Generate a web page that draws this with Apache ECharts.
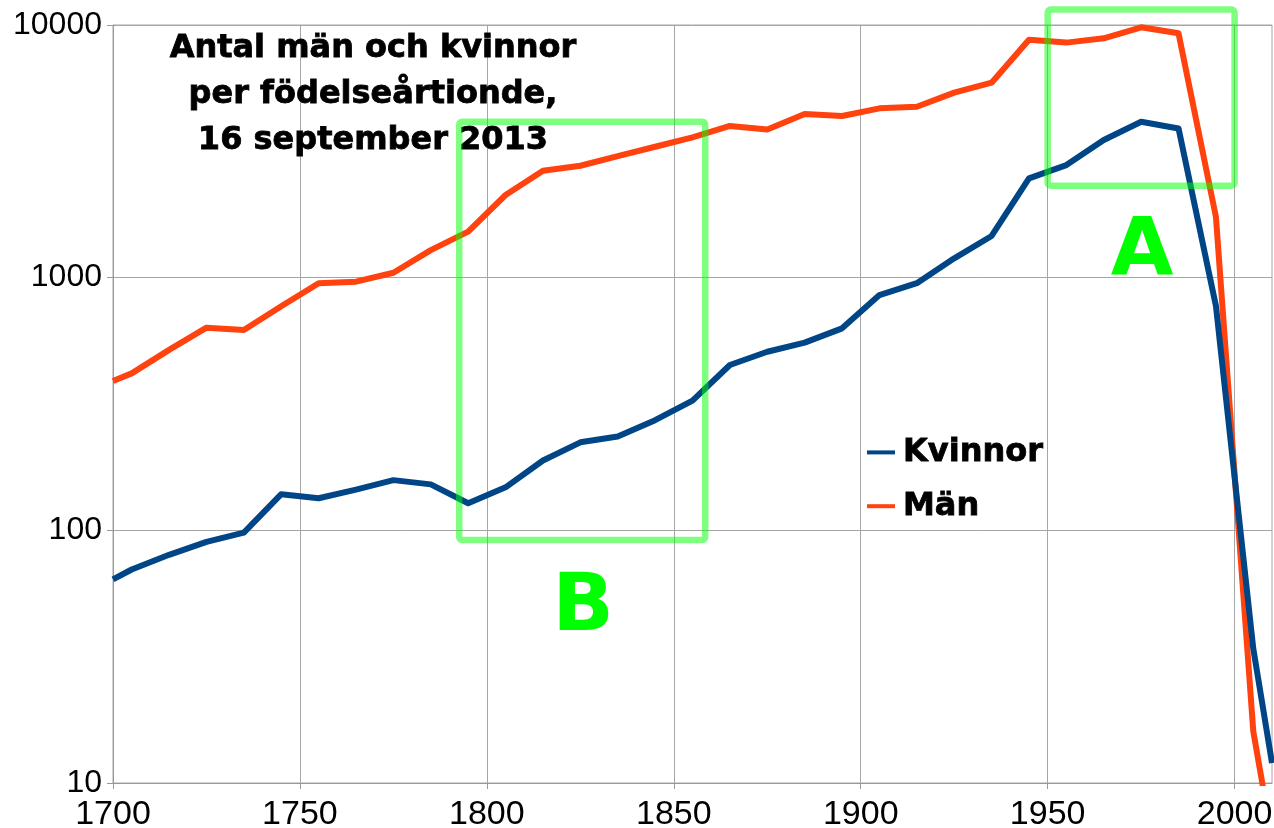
<!DOCTYPE html>
<html><head><meta charset="utf-8">
<script src="https://cdn.jsdelivr.net/npm/echarts@6/dist/echarts.min.js"></script>
<style>html,body{margin:0;padding:0;background:#fff}#c{width:1274px;height:828px}</style>
</head><body><div id="c"></div>
<script>
// Birth-decade midpoints (first point at the axis start, last at 2010)
const years = [1700,1705,1715,1725,1735,1745,1755,1765,1775,1785,1795,1805,1815,1825,1835,1845,1855,1865,1875,1885,1895,1905,1915,1925,1935,1945,1955,1965,1975,1985,1995,2005,2010];
const kvinnor = [64,70,80,90,98,139,134,145,158,152,128,148,189,223,235,273,326,451,509,553,630,853,951,1193,1462,2472,2790,3506,4140,3896,774,34,12];
const man = [390,418,518,634,621,771,951,964,1046,1285,1521,2124,2650,2773,3027,3297,3592,3984,3862,4447,4363,4680,4750,5398,5913,8735,8517,8859,9790,9270,1742,16,6];
const xTicks = [1700,1750,1800,1850,1900,1950,2000];
const yTicks = [10,100,1000,10000];
const seriesNames = ['Kvinnor','Män'];
const titleLines = ['Antal män och kvinnor','per födelseårtionde,','16 september 2013'];
// annotation boxes in data space: [x0, yTop, x1, yBottom]
const boxB = [1792.6, 4140, 1858.4, 91.6];
const boxA = [1950, 11510, 2000, 2312];
const boxLabels = ['A','B'];

const chart = echarts.init(document.getElementById('c'));
const gridColor = '#a6a6a6';
const option = {
  animation: false,
  backgroundColor: '#ffffff',
  grid: {left: 113, right: 2, top: 25, bottom: 45, show: true, borderColor: gridColor, borderWidth: 1,
         containLabel: false, outerBoundsMode: 'none'},
  xAxis: {
    type: 'value', min: 1700, max: 2010, interval: 50,
    axisLine: {show: true, lineStyle: {color: '#999', width: 1}},
    axisTick: {show: true, length: 6, lineStyle: {color: '#999'}, customValues: xTicks},
    splitLine: {show: true, lineStyle: {color: gridColor, width: 1}},
    axisLabel: {
      customValues: xTicks,
      formatter: v => xTicks.includes(v) ? String(v) : '',
      color: '#000', fontFamily: "'Liberation Sans', Arial, sans-serif",
      fontSize: 34, margin: 15
    }
  },
  yAxis: {
    type: 'log', logBase: 10, min: 10, max: 10000,
    axisLine: {show: true, lineStyle: {color: '#999', width: 1}},
    axisTick: {show: true, length: 6, lineStyle: {color: '#999'}},
    splitLine: {show: true, lineStyle: {color: gridColor, width: 1}},
    minorTick: {show: false},
    axisLabel: {
      formatter: v => yTicks.includes(Math.round(v)) ? String(Math.round(v)) : '',
      color: '#000', fontFamily: "'Liberation Sans', Arial, sans-serif",
      fontSize: 32, margin: 11
    }
  },
  legend: {
    data: seriesNames,
    orient: 'vertical', left: 867, top: 436, padding: 0,
    icon: 'rect', itemWidth: 28, itemHeight: 4, itemGap: 21,
    textStyle: {fontFamily: "'DejaVu Sans', sans-serif", fontWeight: 'bold', fontSize: 32, color: '#000',
                padding: [0,0,0,3], textBorderColor: '#000', textBorderWidth: 0.8}
  },
  series: [
    {name: seriesNames[0], type: 'line', data: years.map((y,i)=>[y,kvinnor[i]]), showSymbol: false, symbol: 'none',
     z: 3, clip: true, lineStyle: {color: '#004586', width: 6, join: 'round'}, itemStyle: {color: '#004586'}},
    {name: seriesNames[1], type: 'line', data: years.map((y,i)=>[y,man[i]]), showSymbol: false, symbol: 'none',
     z: 2, clip: true, lineStyle: {color: '#ff420e', width: 6, join: 'round'}, itemStyle: {color: '#ff420e'}}
  ]
};
chart.setOption(option);

function boxRect(b) {
  const p0 = chart.convertToPixel({gridIndex: 0}, [b[0], b[1]]);
  const p1 = chart.convertToPixel({gridIndex: 0}, [b[2], b[3]]);
  return {x: p0[0], y: p0[1], width: p1[0]-p0[0], height: p1[1]-p0[1], r: 3};
}
const textFont = "'DejaVu Sans', sans-serif";
const graphics = [];
titleLines.forEach((t, i) => {
  graphics.push({type: 'text', z: 10, style: {text: t, x: 373, y: 49 + i*46, textAlign: 'center', textVerticalAlign: 'middle',
    font: "bold 32px " + textFont, fill: '#000', stroke: '#000', lineWidth: 0.8}});
});
[boxA, boxB].forEach(b => {
  graphics.push({type: 'rect', z: 20, shape: boxRect(b), style: {fill: 'none', stroke: 'rgba(0,255,0,0.5)', lineWidth: 6.5}});
});
graphics.push({type: 'text', z: 20, style: {text: boxLabels[0], x: 1142, y: 254, textAlign: 'center', textVerticalAlign: 'middle', font: "bold 81px " + textFont, fill: '#00ff00'}});
graphics.push({type: 'text', z: 20, style: {text: boxLabels[1], x: 583, y: 609, textAlign: 'center', textVerticalAlign: 'middle', font: "bold 81px " + textFont, fill: '#00ff00'}});
chart.setOption({graphic: graphics});
</script>
</body></html>
